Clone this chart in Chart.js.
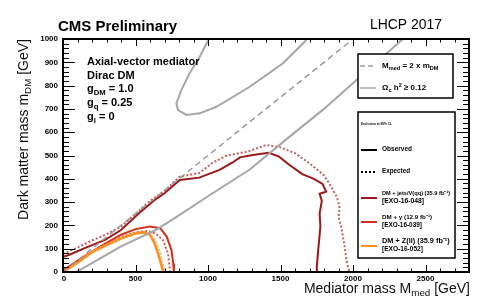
<!DOCTYPE html>
<html>
<head>
<meta charset="utf-8">
<script src="https://cdn.jsdelivr.net/npm/chart.js@4.4.1/dist/chart.umd.min.js"></script>
<style>
  html, body { margin: 0; padding: 0; background: #fff; }
  #c { display: block; }
</style>
</head>
<body>
<canvas id="c" width="503" height="305"></canvas>
<script>
// axis tick labels
const medTicks = [0, 500, 1000, 1500, 2000, 2500];
const dmTicks = [0, 100, 200, 300, 400, 500, 600, 700, 800, 900, 1000];

// relic density (Omega h^2 = 0.12) contours
const relicUpMed = [1005, 943, 873, 816, 782, 793, 851, 943, 1058, 1288, 1517, 1667, 1680];
const relicUpDM  = [1000, 924, 853, 781, 724, 695, 674, 681, 709, 795, 896, 988, 1000];
const relicLoMed = [92, 200, 400, 633, 805, 1000, 1288, 1563, 1800, 2025, 2322, 2345];
const relicLoDM  = [0, 38, 110, 178, 245, 325, 440, 581, 700, 824, 988, 1000];

// M_med = 2 x m_DM
const diagMed = [0, 2000];
const diagDM  = [0, 1000];

// DM + jets/V(qq)
const jetsObsMed = [0, 40, 170, 290, 400, 520, 630, 700, 805, 940, 1080, 1170, 1220, 1310, 1420, 1490, 1560, 1650, 1730, 1790, 1815, 1770, 1785, 1770, 1775, 1760, 1750, 1752];
const jetsObsDM  = [65, 73, 108, 138, 180, 250, 308, 338, 395, 405, 438, 470, 492, 502, 512, 495, 460, 420, 400, 378, 345, 336, 305, 252, 194, 94, 20, 0];
const jetsExpMed = [0, 100, 200, 300, 400, 500, 600, 700, 805, 940, 1030, 1130, 1270, 1400, 1500, 1600, 1700, 1800, 1850, 1890, 1908, 1900, 1920, 1940, 1955, 1975];
const jetsExpDM  = [78, 105, 135, 162, 195, 250, 305, 348, 409, 425, 468, 500, 516, 545, 535, 510, 466, 415, 366, 320, 275, 237, 190, 120, 50, 0];

// DM + gamma
const phoObsMed = [0, 100, 200, 300, 400, 500, 600, 670, 715, 748, 760, 765];
const phoObsDM  = [8, 48, 88, 125, 160, 184, 195, 188, 152, 94, 37, 0];
const phoExpMed = [0, 100, 200, 300, 400, 500, 580, 640, 690, 724, 736, 740];
const phoExpDM  = [6, 45, 84, 118, 150, 170, 176, 165, 137, 80, 20, 0];

// DM + Z(ll)
const zllObsMed = [0, 20, 100, 200, 300, 400, 500, 560, 600, 630, 655, 675, 688, 692];
const zllObsDM  = [0, 8, 40, 85, 115, 143, 165, 170, 160, 125, 80, 37, 9, 0];
const zllExpMed = [0, 100, 200, 300, 400, 500, 550, 600, 640, 670, 690, 700];
const zllExpDM  = [0, 42, 88, 120, 150, 170, 175, 165, 130, 80, 30, 0];

const FONT = '"Liberation Sans", Arial, Helvetica, sans-serif';
const cJets = '#9c1818';
const cPho = '#d2301c';
const cZll = '#ff8f1f';
const cGray = '#a6a6a6';

function pts(xs, ys) {
    return xs.map((x, i) => ({ x: x, y: ys[i] }));
}

function line(data, color, width, dash) {
    return {
        data: data,
        showLine: true,
        borderColor: color,
        borderWidth: width,
        borderDash: dash || [],
        pointRadius: 0,
        fill: false,
        tension: 0
    };
}

// draws text with sub/superscripts: parts = [[text, 0 normal | 1 sub | 2 sup], ...]
function rich(ctx, parts, x, y, size, weight, align) {
    const fnt = (k) => weight + ' ' + (k ? size * 0.7 : size) + 'px ' + FONT;
    let w = 0;
    parts.forEach(p => { ctx.font = fnt(p[1]); w += ctx.measureText(p[0]).width; });
    let cx = align === 'right' ? x - w : x;
    ctx.textAlign = 'left';
    ctx.textBaseline = 'middle';
    parts.forEach(p => {
        ctx.font = fnt(p[1]);
        const dy = p[1] === 1 ? size * 0.32 : (p[1] === 2 ? -size * 0.35 : 0);
        ctx.fillText(p[0], cx, y + dy);
        cx += ctx.measureText(p[0]).width;
    });
}

// text squeezed / stretched to a given width
function fitText(ctx, text, x, y, width, weight) {
    ctx.font = weight + ' 10px ' + FONT;
    const s = 10 * width / ctx.measureText(text).width;
    ctx.font = weight + ' ' + s.toFixed(2) + 'px ' + FONT;
    ctx.textAlign = 'left';
    ctx.textBaseline = 'middle';
    ctx.fillText(text, x, y);
}

const decor = {
    id: 'decor',
    afterDraw(chart) {
        const ctx = chart.ctx;
        const a = chart.chartArea;
        const xs = chart.scales.x, ys = chart.scales.y;
        ctx.save();
        ctx.strokeStyle = '#000';
        ctx.fillStyle = '#000';

        // ticks, inside the frame on all four sides
        ctx.lineWidth = 1;
        ctx.beginPath();
        for (let v = 0; v <= 2800; v += 100) {
            const px = Math.round(xs.getPixelForValue(v)) + 0.5;
            const len = v % 500 === 0 ? 7 : 3.5;
            ctx.moveTo(px, a.bottom); ctx.lineTo(px, a.bottom - len);
            ctx.moveTo(px, a.top); ctx.lineTo(px, a.top + len);
        }
        for (let v = 0; v <= 1000; v += 20) {
            const py = Math.round(ys.getPixelForValue(v)) + 0.5;
            const len = v % 100 === 0 ? 12 : 6;
            ctx.moveTo(a.left, py); ctx.lineTo(a.left + len, py);
            ctx.moveTo(a.right, py); ctx.lineTo(a.right - len, py);
        }
        ctx.stroke();
        ctx.lineWidth = 2;
        ctx.strokeRect(a.left, a.top, a.right - a.left, a.bottom - a.top);

        // tick labels
        ctx.font = 'bold 8px ' + FONT;
        ctx.textAlign = 'center';
        ctx.textBaseline = 'top';
        medTicks.forEach(v => ctx.fillText(String(v), xs.getPixelForValue(v) + (v === 0 ? 1 : 0), a.bottom + 3));
        ctx.textAlign = 'right';
        ctx.textBaseline = 'middle';
        dmTicks.forEach(v => ctx.fillText(String(v), a.left - 5, ys.getPixelForValue(v)));

        // header
        ctx.font = 'bold 15px ' + FONT;
        ctx.textAlign = 'left';
        ctx.textBaseline = 'alphabetic';
        ctx.fillText('CMS Preliminary', 58, 31);
        fitText(ctx, 'LHCP 2017', 370, 25, 72, 'normal');

        // axis titles
        ctx.fillStyle = '#101018';
        rich(ctx, [['Mediator mass M', 0], ['med', 1], [' [GeV]', 0]], 470, 289, 14, 'normal', 'right');
        ctx.save();
        ctx.translate(24, 39);
        ctx.rotate(-Math.PI / 2);
        rich(ctx, [['Dark matter mass m', 0], ['DM', 1], [' [GeV]', 0]], 0, 0, 14, 'normal', 'right');
        ctx.restore();
        ctx.fillStyle = '#000';

        // model annotation
        ctx.font = 'bold 11px ' + FONT;
        ctx.textAlign = 'left';
        ctx.textBaseline = 'middle';
        ctx.fillText('Axial-vector mediator', 87, 62);
        ctx.fillText('Dirac DM', 87, 76);
        rich(ctx, [['g', 0], ['DM', 1], [' = 1.0', 0]], 87, 89, 11, 'bold');
        rich(ctx, [['g', 0], ['q', 1], [' = 0.25', 0]], 87, 103, 11, 'bold');
        rich(ctx, [['g', 0], ['l', 1], [' = 0', 0]], 87, 117, 11, 'bold');

        // legend 1
        ctx.fillStyle = '#fff';
        ctx.fillRect(358, 54, 95, 44);
        ctx.fillRect(358, 112, 97, 146);
        ctx.fillStyle = '#000';
        ctx.lineWidth = 1.5;
        ctx.strokeRect(358, 54, 95, 44);
        ctx.strokeRect(358, 112, 97, 146);

        ctx.lineWidth = 1.5;
        ctx.strokeStyle = '#999';
        ctx.setLineDash([5, 3]);
        ctx.beginPath(); ctx.moveTo(360, 66); ctx.lineTo(376, 66); ctx.stroke();
        ctx.setLineDash([]);
        ctx.strokeStyle = cGray;
        ctx.beginPath(); ctx.moveTo(360, 88); ctx.lineTo(376, 88); ctx.stroke();
        rich(ctx, [['M', 0], ['med', 1], [' = 2 x m', 0], ['DM', 1]], 382, 66, 8, 'bold');
        rich(ctx, [['\u03A9', 0], ['c', 1], [' h', 0], ['2', 2], [' \u2265 0.12', 0]], 382, 88, 8, 'bold');

        // legend 2
        fitText(ctx, 'Exclusion at 95% CL', 361, 124, 31, 'bold');
        ctx.lineWidth = 2;
        ctx.strokeStyle = '#000';
        ctx.beginPath(); ctx.moveTo(361, 150); ctx.lineTo(377, 150); ctx.stroke();
        ctx.setLineDash([2, 2]);
        ctx.beginPath(); ctx.moveTo(361, 172); ctx.lineTo(377, 172); ctx.stroke();
        ctx.setLineDash([]);
        fitText(ctx, 'Observed', 382, 149, 30, 'bold');
        fitText(ctx, 'Expected', 382, 171, 28, 'bold');

        const entries = [
            [cJets, 198, 'DM + jets/V(qq) (35.9 fb\u207B\u00B9)', 68, '[EXO-16-048]', 42],
            [cPho, 222, 'DM + \u03B3 (12.9 fb\u207B\u00B9)', 50, '[EXO-16-039]', 40],
            [cZll, 246, 'DM + Z(ll) (35.9 fb\u207B\u00B9)', 68, '[EXO-16-052]', 41]
        ];
        entries.forEach(e => {
            ctx.strokeStyle = e[0];
            ctx.beginPath(); ctx.moveTo(361, e[1]); ctx.lineTo(377, e[1]); ctx.stroke();
            fitText(ctx, e[2], 382, e[1] - 5, e[3], 'bold');
            fitText(ctx, e[4], 382, e[1] + 3, e[5], 'bold');
        });
        ctx.restore();
    }
};

new Chart(document.getElementById('c'), {
    type: 'scatter',
    data: {
        datasets: [
            line(pts(relicUpMed, relicUpDM), cGray, 2),
            line(pts(relicLoMed, relicLoDM), cGray, 2),
            line(pts(diagMed, diagDM), '#999', 1.5, [6, 4]),
            line(pts(zllExpMed, zllExpDM), 'rgba(255,150,50,0.75)', 2, [2, 2]),
            line(pts(zllObsMed, zllObsDM), cZll, 2.5),
            line(pts(phoExpMed, phoExpDM), 'rgba(210,48,28,0.8)', 2, [2, 2]),
            line(pts(phoObsMed, phoObsDM), cPho, 2),
            line(pts(jetsExpMed, jetsExpDM), 'rgba(170,40,40,0.75)', 2, [2, 2]),
            line(pts(jetsObsMed, jetsObsDM), cJets, 2)
        ]
    },
    options: {
        responsive: false,
        animation: false,
        layout: { padding: { top: 39, right: 34, left: 0, bottom: 0 } },
        plugins: { legend: { display: false }, tooltip: { enabled: false } },
        scales: {
            x: {
                type: 'linear',
                min: 0,
                max: 2800,
                afterFit(s) { s.height = 33; },
                grid: { display: false, drawTicks: false },
                border: { display: false },
                ticks: { display: false, stepSize: 100 }
            },
            y: {
                type: 'linear',
                min: 0,
                max: 1000,
                afterFit(s) { s.width = 63; },
                grid: { display: false, drawTicks: false },
                border: { display: false },
                ticks: { display: false, stepSize: 100 }
            }
        }
    },
    plugins: [decor]
});
</script>
</body>
</html>
